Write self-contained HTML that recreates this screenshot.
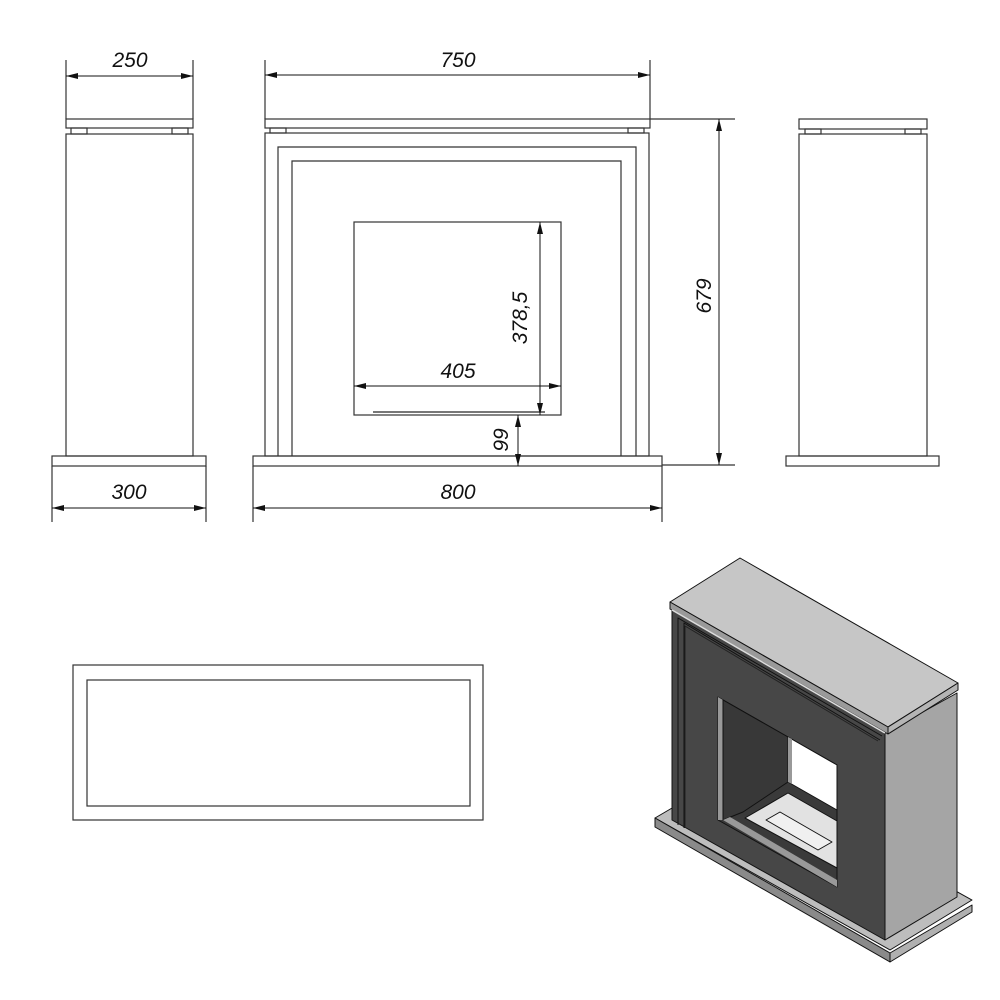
<!DOCTYPE html>
<html><head><meta charset="utf-8"><style>
html,body{margin:0;padding:0;background:#fff;}
svg{display:block;}
text{font-family:"Liberation Sans",sans-serif;font-style:italic;font-size:21px;fill:#111;}
</style></head><body>
<svg width="1000" height="1000" viewBox="0 0 1000 1000" xmlns="http://www.w3.org/2000/svg">
<defs>
<marker id="a" viewBox="0 0 12 6" refX="12" refY="3" markerWidth="12" markerHeight="6" orient="auto-start-reverse" markerUnits="userSpaceOnUse"><path d="M0,0 L12,3 L0,6z" fill="#111"/></marker>
</defs>
<g fill="none" stroke="#333" stroke-width="1.2">
<!-- left side view -->
<rect x="66" y="119" width="127" height="9"/>
<rect x="71" y="128" width="16" height="6"/><rect x="172" y="128" width="16" height="6"/>
<rect x="66" y="134" width="127" height="322"/>
<rect x="52" y="456" width="154" height="10"/>
<line x1="66" y1="60" x2="66" y2="119"/><line x1="193" y1="60" x2="193" y2="119"/>
<line x1="52" y1="466" x2="52" y2="522"/><line x1="206" y1="466" x2="206" y2="522"/>
<!-- front view -->
<rect x="265" y="119" width="385" height="9"/>
<rect x="270" y="128" width="16" height="5"/><rect x="628" y="128" width="16" height="5"/>
<rect x="265" y="133" width="384" height="323"/>
<polyline points="278,456 278,147 636,147 636,456"/>
<polyline points="292,456 292,161 621,161 621,456"/>
<rect x="354" y="222" width="207" height="193"/>
<line x1="373" y1="412" x2="545" y2="412" stroke="#777" stroke-width="2"/>
<rect x="253" y="456" width="409" height="10"/>
<line x1="265" y1="60" x2="265" y2="119"/><line x1="650" y1="60" x2="650" y2="119"/>
<line x1="253" y1="466" x2="253" y2="522"/><line x1="662" y1="466" x2="662" y2="522"/>
<line x1="650" y1="119" x2="735" y2="119"/><line x1="662" y1="465" x2="735" y2="465"/>
<!-- right side view -->
<rect x="799" y="119" width="128" height="10"/>
<rect x="805" y="129" width="16" height="5"/><rect x="905" y="129" width="16" height="5"/>
<rect x="799" y="134" width="128" height="322"/>
<rect x="786" y="456" width="153" height="10"/>
<!-- plan -->
<rect x="73" y="665" width="410" height="155"/>
<rect x="87" y="680" width="383" height="126"/>
</g>
<g stroke="#111" stroke-width="1" fill="none">
<line x1="66" y1="76" x2="193" y2="76" marker-start="url(#a)" marker-end="url(#a)"/>
<line x1="52" y1="508" x2="206" y2="508" marker-start="url(#a)" marker-end="url(#a)"/>
<line x1="265" y1="75" x2="650" y2="75" marker-start="url(#a)" marker-end="url(#a)"/>
<line x1="253" y1="508" x2="662" y2="508" marker-start="url(#a)" marker-end="url(#a)"/>
<line x1="719" y1="119" x2="719" y2="465" marker-start="url(#a)" marker-end="url(#a)"/>
<line x1="354" y1="386" x2="561" y2="386" marker-start="url(#a)" marker-end="url(#a)"/>
<line x1="540" y1="222" x2="540" y2="415" marker-start="url(#a)" marker-end="url(#a)"/>
<line x1="518" y1="415" x2="518" y2="466" marker-start="url(#a)" marker-end="url(#a)"/>
</g>
<text x="130" y="67" text-anchor="middle">250</text>
<text x="129" y="499" text-anchor="middle">300</text>
<text x="458" y="67" text-anchor="middle">750</text>
<text x="458" y="499" text-anchor="middle">800</text>
<text x="458" y="378" text-anchor="middle">405</text>
<text transform="translate(711,296) rotate(-90)" text-anchor="middle">679</text>
<text transform="translate(527,318) rotate(-90)" text-anchor="middle">378,5</text>
<text transform="translate(508,440) rotate(-90)" text-anchor="middle">99</text>
<!-- isometric -->
<g stroke="#111" stroke-width="1" stroke-linejoin="round">
<polygon points="655,818 737,770 972,900 890,950" fill="#bdbdbd"/>
<polygon points="655,818 890,953 890,962 655,827" fill="#8a8a8a"/>
<polygon points="890,953 972,905 972,912 890,962" fill="#b0b0b0"/>
<polygon points="885,733 957,693 957,897 885,940" fill="#a5a5a5"/>
<polygon points="672,610 885,733 885,940 672,820" fill="#474747"/>
<polyline points="678,825 678,618 882,736" fill="none"/>
<polyline points="684,828 684,623 880,740" fill="none"/>
<polyline points="685,828 685,626 878,741" fill="none" stroke="#222"/>
<polygon points="718,697 837,765 837,887 718,820" fill="#3a3a3a"/>
<polygon points="718,697 723,700 723,820 718,820" fill="#999" stroke="none"/>
<polygon points="723,700 788,737 788,782 743,812 723,820" fill="#383838"/>
<polygon points="788,737 837,765 837,810 788,782" fill="#fff"/>
<polygon points="788,737 792,739 792,784 788,782" fill="#999" stroke="none"/>
<polygon points="745,818 788,793 837,821 837,868" fill="#e2e2e2"/>
<polygon points="766,820 780,812 832,842 818,850" fill="#f0f0f0"/>
<polygon points="723,820 837,887 837,880 730,817" fill="#999" stroke="none"/>
<polygon points="670,602 740,558 958,683 888,727" fill="#c6c6c6"/>
<polygon points="670,602 888,727 888,734 670,609" fill="#9a9a9a"/>
<polygon points="888,727 958,683 958,690 888,734" fill="#b5b5b5"/>
<line x1="672" y1="610" x2="885" y2="733" stroke="#ddd" stroke-width="1.5"/>
</g>
</svg>
</body></html>
